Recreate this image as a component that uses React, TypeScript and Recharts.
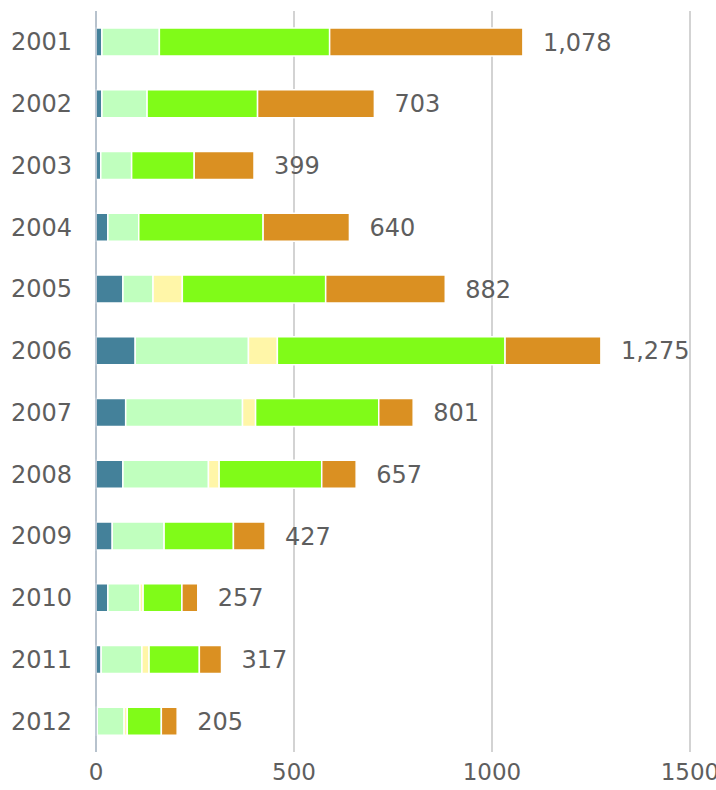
import { BarChart, Bar, XAxis, YAxis, CartesianGrid, LabelList } from 'recharts';

// yearly values per segment
const years = ['2001', '2002', '2003', '2004', '2005', '2006', '2007', '2008', '2009', '2010', '2011', '2012'];
const teal = [15, 15, 12, 30, 68, 99, 75, 68, 41, 30, 13, 3];
const lightGreen = [145, 114, 78, 78, 76, 286, 295, 216, 131, 81, 103, 68];
const paleYellow = [0, 0, 0, 0, 74, 73, 33, 27, 0, 8, 18, 8];
const green = [430, 279, 158, 314, 362, 575, 311, 259, 175, 98, 127, 86];
const orange = [488, 295, 151, 218, 302, 242, 87, 87, 80, 40, 56, 40];
const totals = [1078, 703, 399, 640, 882, 1275, 801, 657, 427, 257, 317, 205];

const xTicks = [0, 500, 1000, 1500];
const boundaryTicks = [0, 1, 2, 3, 4, 5, 6, 7, 8, 9, 10, 11, 12];

const data = years.map((year, i) => ({
  year,
  teal: teal[i],
  lightGreen: lightGreen[i],
  paleYellow: paleYellow[i],
  green: green[i],
  orange: orange[i],
  total: totals[i],
}));

const FONT = '"DejaVu Sans", Verdana, sans-serif';
const TEXT = '#5e5e5e';

const series = [
  { key: 'teal', color: '#44819a' },
  { key: 'lightGreen', color: '#c0ffbe' },
  { key: 'paleYellow', color: '#fff6a8' },
  { key: 'green', color: '#80fb18' },
  { key: 'orange', color: '#da9022' },
];

export default function App() {
  return (
    <div
      style={{
        position: 'absolute',
        left: 0,
        top: 0,
        width: 716,
        height: 790,
        overflow: 'hidden',
        background: '#fff',
      }}
    >
      <BarChart
        width={740}
        height={790}
        data={data}
        layout="vertical"
        margin={{ top: 11, right: 50, bottom: 0, left: 0 }}
      >
        <CartesianGrid horizontal={false} stroke="#c4c4c4" strokeWidth={1.5} />
        <XAxis
          type="number"
          domain={[0, 1500]}
          ticks={xTicks}
          axisLine={false}
          tickLine={false}
          tickSize={0}
          tickMargin={12}
          height={38}
          tick={{ fill: TEXT, fontSize: 23, fontFamily: FONT }}
        />
        <YAxis
          yAxisId="cat"
          type="category"
          dataKey="year"
          width={96}
          axisLine={{ stroke: '#aebccb', strokeWidth: 1.5 }}
          tickLine={false}
          tickSize={0}
          tickMargin={24}
          tick={{ fill: TEXT, fontSize: 24, fontFamily: FONT }}
        />
        {/* small tick marks between the categories */}
        <YAxis
          yAxisId="bounds"
          type="number"
          domain={[0, 12]}
          ticks={boundaryTicks}
          width={0}
          axisLine={false}
          tick={false}
          tickSize={6}
          tickLine={{ stroke: '#b4bcc6' }}
        />
        {series.map((s) => (
          <Bar
            key={s.key}
            yAxisId="cat"
            dataKey={s.key}
            stackId="a"
            fill={s.color}
            stroke="#ffffff"
            strokeWidth={1.5}
            barSize={28}
            isAnimationActive={false}
          >
            {s.key === 'orange' && (
              <LabelList
                dataKey="total"
                position="right"
                offset={20}
                formatter={(v: number) => v.toLocaleString('en-US')}
                style={{ fill: TEXT, fontSize: 24, fontFamily: FONT }}
              />
            )}
          </Bar>
        ))}
      </BarChart>
    </div>
  );
}
